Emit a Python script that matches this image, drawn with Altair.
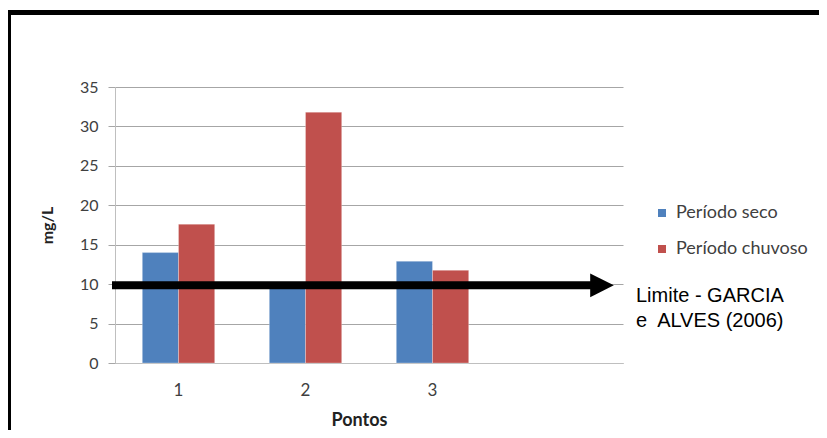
import altair as alt
import pandas as pd

pontos = ["1", "2", "3", " "]
periodos = ["Período seco", "Período chuvoso"]
seco = [14.0, 9.8, 12.9]
chuvoso = [17.6, 31.8, 11.75]
colors = ["#4F81BD", "#C0504D"]
y_ticks = [0, 5, 10, 15, 20, 25, 30, 35]
limite = 9.85
anot = ["Limite - GARCIA", "e\u00a0 ALVES (2006)"]

rows = []
for i, p in enumerate(pontos[:3]):
    rows.append({"ponto": p, "periodo": periodos[0], "valor": seco[i]})
    rows.append({"ponto": p, "periodo": periodos[1], "valor": chuvoso[i]})
df = pd.DataFrame(rows)

W, H = 508, 276
one = pd.DataFrame({"a": [0]})

yscale = alt.Scale(domain=[0, 35], nice=False)
yaxis = alt.Axis(title="mg/L", values=y_ticks, tickSize=7, labelPadding=10, labelOverlap=False,
                 titleX=-68, titleY=138, titleAngle=-90, titleBaseline="middle",
                 titleAlign="center", titleFontSize=16)

bars = alt.Chart(df).mark_bar(stroke="#ffffff", strokeOpacity=0.35, strokeWidth=0.8).encode(
    x=alt.X("ponto:N", scale=alt.Scale(domain=pontos, paddingInner=0.43, paddingOuter=0.215),
            axis=alt.Axis(title="Pontos", labelAngle=0, ticks=False, labelPadding=19,
                          labelFontSize=17,
                          titleX=244, titleY=62, titleBaseline="alphabetic", titleAlign="center",
                          titleFontSize=18)),
    xOffset=alt.XOffset("periodo:N", sort=periodos),
    y=alt.Y("valor:Q", scale=yscale, axis=yaxis),
    color=alt.Color("periodo:N", sort=periodos,
                    scale=alt.Scale(domain=periodos, range=colors),
                    legend=alt.Legend(title=None, orient="none", legendX=538, legendY=117,
                                      symbolType="square", symbolSize=64, symbolStrokeWidth=0,
                                      labelFontSize=18, labelFont="Lato", labelColor="#404040",
                                      rowPadding=18, labelOffset=5)),
)

arrow_line = alt.Chart(one).mark_rule(color="black", strokeWidth=8).encode(
    x=alt.value(-3), x2=alt.value(480), y=alt.YDatum(limite, scale=yscale, axis=yaxis)
)
arrow_head = alt.Chart(one).mark_point(
    shape="M -1 -1 L 1 0 L -1 1 Z", filled=True, color="black", opacity=1, size=560
).encode(x=alt.value(487), y=alt.YDatum(limite, scale=yscale, axis=yaxis))

text = alt.Chart(one).mark_text(
    text=anot, font="Liberation Sans", fontSize=20, color="black", align="left",
    baseline="alphabetic", lineHeight=25
).encode(x=alt.value(521), y=alt.value(215))

border_top = alt.Chart(one).mark_rule(color="black", strokeWidth=5).encode(
    x=alt.value(-110), x2=alt.value(710), y=alt.value(-74.5)
)
border_left = alt.Chart(one).mark_rule(color="black", strokeWidth=4).encode(
    x=alt.value(-106), y=alt.value(-77), y2=alt.value(360)
)

chart = alt.layer(bars, arrow_line, arrow_head, text, border_top, border_left).properties(
    width=W, height=H,
    autosize=alt.AutoSizeParams(type="none"),
    padding={"left": 107, "top": 79, "right": 196, "bottom": 67},
    background="white",
).configure_view(stroke=None).configure_axis(
    labelFont="Lato", labelFontSize=16, labelColor="#404040",
    titleFont="Lato", titleFontSize=16, titleFontWeight="bold", titleColor="#222222",
    domainColor="#bfbfbf", tickColor="#a6a6a6", gridColor="#a6a6a6",
).configure_axisY(grid=True).configure_axisX(grid=False)

chart.save("out.html", embed_options={"renderer": "svg", "actions": False})
